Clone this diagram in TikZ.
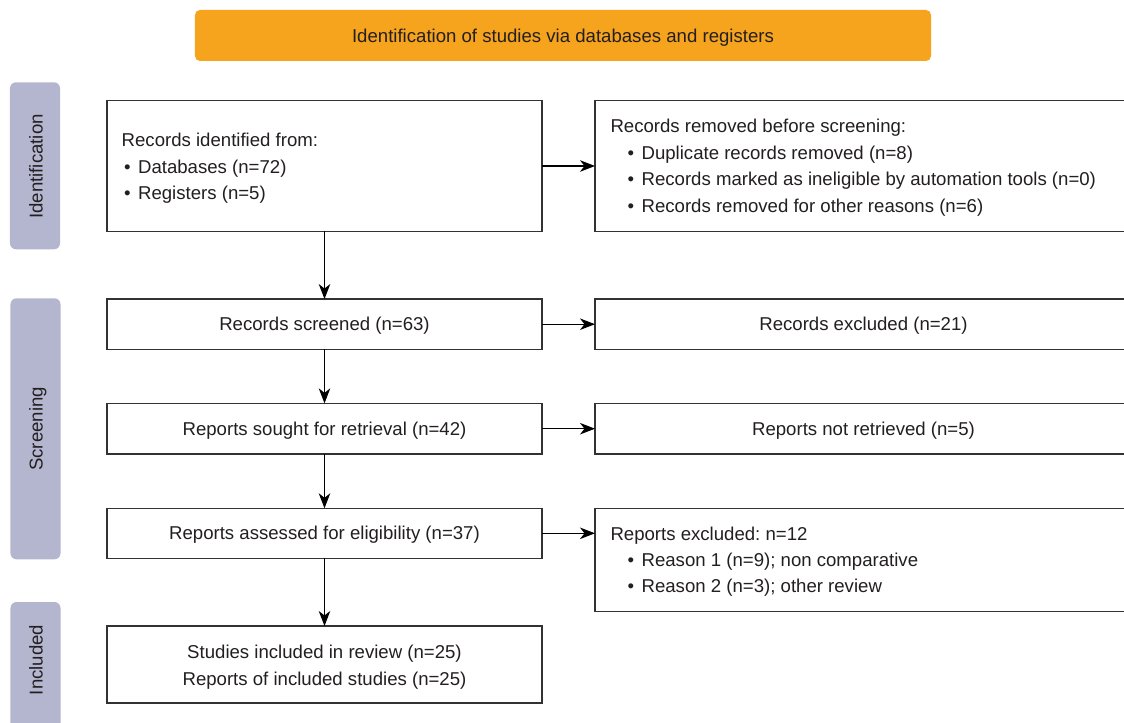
\documentclass[tikz,border=0pt]{standalone}
\usepackage{fontspec}
\setmainfont{Liberation Sans}
\usetikzlibrary{arrows.meta}
\definecolor{orangebar}{RGB}{246,163,30}
\definecolor{lavbar}{RGB}{180,181,207}
\definecolor{txt}{RGB}{35,31,32}
\definecolor{boxline}{RGB}{50,50,50}
\newcommand{\fsz}{\fontsize{18.6bp}{26.7bp}\selectfont\frenchspacing}
\newcommand{\bul}{\textbullet\hspace{7.6bp}}
\begin{document}
\begin{tikzpicture}[x=1bp,y=-1bp,
  every node/.style={inner sep=0pt, outer sep=0pt, text=txt, font=\fsz},
  flowbox/.style={draw=boxline, line width=1.3bp, fill=white, text height=13.3bp, text depth=0pt},
  lbox/.style={flowbox, minimum width=435bp},
  rbox/.style={flowbox, minimum width=537bp},
  linetext/.style={anchor=base west},
  ctext/.style={anchor=base},
  sidebar/.style={fill=lavbar, rounded corners=6bp, minimum width=50bp},
  sidelabel/.style={rotate=90, text height=13.3bp, text depth=0pt},
  conn/.style={-{Stealth[length=15bp,width=11.5bp,inset=4.5bp]}, line width=1.2bp, draw=black}
]
\useasboundingbox (0,0) rectangle (1124,723);
\clip (0,0) rectangle (1124,723);

% banner
\node[fill=orangebar, rounded corners=5bp, minimum width=736bp, minimum height=51bp,
      text height=13.3bp, text depth=0pt] (banner) at (563,35.5)
      {Identification of studies via databases and registers};

% side bars
\node[sidebar, minimum height=167bp] (idbar) at (35,165.8) {};
\node[sidelabel] (idlab) at (36,166.5) {Identification};
\node[sidebar, minimum height=261bp] (scbar) at (35.5,428.8) {};
\node[sidelabel] (sclab) at (36,429) {Screening};
\node[sidebar, minimum height=128bp] (inbar) at (35.5,666) {};
\node[sidelabel] (inlab) at (36,660) {Included};

% left column
\node[lbox, minimum height=130.5bp] (b1) at (324.5,166) {};
\node[linetext] (b1a) at (121.7,146.7) {Records identified from:};
\node[linetext] (b1b) at (124,173.3) {\bul Databases (n=72)};
\node[linetext] (b1c) at (124,200) {\bul Registers (n=5)};

\node[lbox, minimum height=50.3bp] (b2) at (324.5,324.2) {Records screened (n=63)};
\node[lbox, minimum height=50.7bp] (b3) at (324.5,428.7) {Reports sought for retrieval (n=42)};
\node[lbox, minimum height=50bp] (b4) at (324.5,533.3) {Reports assessed for eligibility (n=37)};

\node[lbox, minimum height=77bp] (b5) at (324.5,664.5) {};
\node[ctext] (b5a) at (324.5,658.3) {Studies included in review (n=25)};
\node[ctext] (b5b) at (324.5,685) {Reports of included studies (n=25)};

% right column
\node[rbox, minimum height=130.5bp] (r1) at (863.5,166) {};
\node[linetext] (r1a) at (610.5,132.3) {Records removed before screening:};
\node[linetext] (r1b) at (627.5,159.3) {\bul Duplicate records removed (n=8)};
\node[linetext] (r1c) at (627.5,185.7) {\bul Records marked as ineligible by automation tools (n=0)};
\node[linetext] (r1d) at (627.5,212.3) {\bul Records removed for other reasons (n=6)};

\node[rbox, minimum height=50.3bp] (r2) at (863.5,324.2) {Records excluded (n=21)};
\node[rbox, minimum height=50.7bp] (r3) at (863.5,428.7) {Reports not retrieved (n=5)};

\node[rbox, minimum height=103.4bp] (r4) at (863.5,560) {};
\node[linetext] (r4a) at (610.5,540) {Reports excluded: n=12};
\node[linetext] (r4b) at (627.5,566.7) {\bul Reason 1 (n=9); non comparative};
\node[linetext] (r4c) at (627.5,592.7) {\bul Reason 2 (n=3); other review};

% connectors
\draw[conn] (b1) -- (b2);
\draw[conn] (b2) -- (b3);
\draw[conn] (b3) -- (b4);
\draw[conn] (b4) -- (b5);
\draw[conn] (b1.east) -- (r1.west);
\draw[conn] (b2.east) -- (r2.west);
\draw[conn] (b3.east) -- (r3.west);
\draw[conn] (b4.east) -- (r4.west |- b4.east);
\end{tikzpicture}
\end{document}
